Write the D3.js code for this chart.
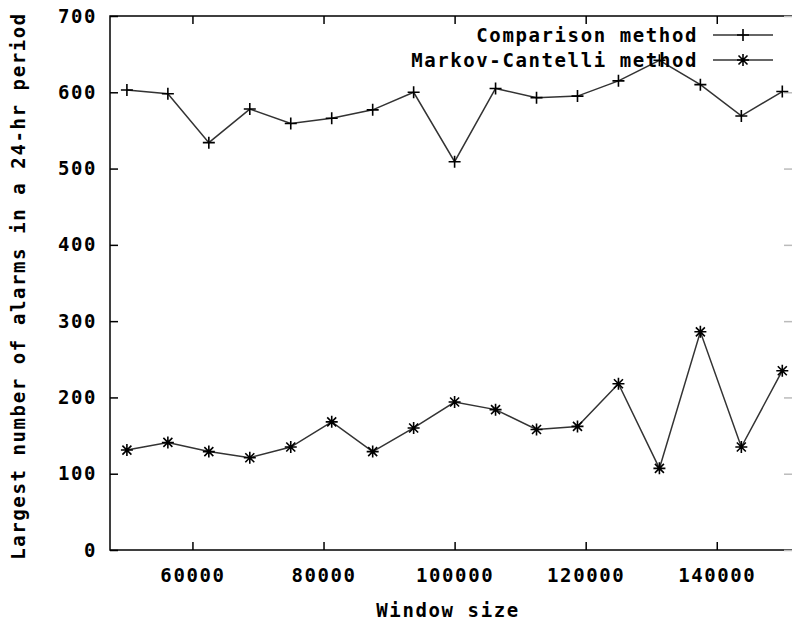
<!DOCTYPE html>
<html>
<head>
<meta charset="utf-8">
<script src="https://cdn.jsdelivr.net/npm/d3@7"></script>
<style>
  body { margin: 0; background: #fff; }
  svg text { font-family: "DejaVu Sans Mono", monospace; font-weight: bold; font-size: 19px; letter-spacing: 1.6px; fill: #000; }
</style>
</head>
<body>
<div id="chart"></div>
<script>
// window sizes (x)
let windowSizes = [50000, 56250, 62500, 68750, 75000, 81250, 87500, 93750, 100000,
                   106250, 112500, 118750, 125000, 131250, 137500, 143750, 150000];
let comparison = [603, 598, 534, 578, 559, 566, 577, 600, 509, 605, 593, 595, 615, 642, 610, 569, 601];
let markov = [131, 141, 129, 121, 135, 168, 129, 160, 194, 184, 158, 162, 218, 107, 286, 135, 235];
let xTicks = [60000, 80000, 100000, 120000, 140000];
let yTicks = [0, 100, 200, 300, 400, 500, 600, 700];
let seriesNames = ["Comparison method", "Markov-Cantelli method"];

let W = 792, H = 622;
let margin = {top: 16, right: 0, bottom: 72, left: 110},
    width = W - margin.left - margin.right,
    height = H - margin.top - margin.bottom;

let x = d3.scaleLinear().domain([47420, 151480]).range([0, width]);
let y = d3.scaleLinear().domain([0, 700]).range([height, 0]);

let svg = d3.select("#chart").append("svg")
    .attr("width", W).attr("height", H);
let g = svg.append("g")
    .attr("transform", "translate(" + margin.left + "," + margin.top + ")");

// frame (right edge falls just outside the picture)
g.append("rect")
  .attr("x", 0).attr("y", 0).attr("width", width + 6).attr("height", height)
  .attr("fill", "none").attr("stroke", "#000").attr("stroke-width", 1.5);

// axes, ticks pointing inward like gnuplot
let axLeft = g.append("g")
  .call(d3.axisLeft(y).tickValues(yTicks).tickSizeInner(-8).tickSizeOuter(0).tickPadding(13));
let axBottom = g.append("g")
  .attr("transform", "translate(0," + height + ")")
  .call(d3.axisBottom(x).tickValues(xTicks).tickSizeInner(-8).tickSizeOuter(0).tickPadding(19).tickFormat(d3.format("d")));
let axTop = g.append("g")
  .call(d3.axisTop(x).tickValues(xTicks).tickSizeInner(-8).tickSizeOuter(0).tickFormat(""));
let axRight = g.append("g")
  .attr("transform", "translate(" + width + ",0)")
  .call(d3.axisRight(y).tickValues(yTicks).tickSizeInner(-8).tickSizeOuter(0).tickFormat(""));

[axLeft, axBottom, axTop, axRight].forEach(function(a) {
  a.select(".domain").remove();
  a.selectAll(".tick line").attr("stroke", "#000").attr("stroke-width", 1.5);
  a.selectAll(".tick text").attr("font-family", null).attr("font-size", null);
});
axRight.selectAll(".tick line").attr("stroke", "#bbb");

// axis titles
g.append("text")
  .attr("text-anchor", "middle")
  .attr("x", x(99000))
  .attr("y", height + 67)
  .text("Window size");

svg.append("text")
  .attr("text-anchor", "middle")
  .attr("transform", "translate(25,286) rotate(-90)")
  .text("Largest number of alarms in a 24-hr period");

let line = d3.line()
  .x(function(d) { return x(d[0]); })
  .y(function(d) { return y(d[1]); });

let compData = windowSizes.map(function(w, i) { return [w, comparison[i]]; });
let markData = windowSizes.map(function(w, i) { return [w, markov[i]]; });

function plusPath(s) {
  return "M" + (-s) + ",0H" + s + "M0," + (-s) + "V" + s;
}
function starPath(s) {
  let d = s * 0.75;
  return plusPath(s) + "M" + (-d) + "," + (-d) + "L" + d + "," + d + "M" + (-d) + "," + d + "L" + d + "," + (-d);
}

let series = [
  {name: seriesNames[0], data: compData, marker: plusPath(6)},
  {name: seriesNames[1], data: markData, marker: starPath(6)}
];

series.forEach(function(s) {
  g.append("path")
    .datum(s.data)
    .attr("d", line)
    .attr("fill", "none")
    .attr("stroke", "#333")
    .attr("stroke-width", 1.5);

  g.selectAll(null)
    .data(s.data)
    .enter().append("path")
    .attr("transform", function(d) { return "translate(" + x(d[0]) + "," + y(d[1]) + ")"; })
    .attr("d", s.marker)
    .attr("fill", "none")
    .attr("stroke", "#000")
    .attr("stroke-width", 1.6);
});

// legend (top right, gnuplot style)
let legend = svg.append("g");
series.forEach(function(s, i) {
  let ly = 35 + i * 25;
  legend.append("text")
    .attr("text-anchor", "end")
    .attr("x", 698)
    .attr("y", ly)
    .attr("dy", "0.35em")
    .text(s.name);
  legend.append("line")
    .attr("x1", 713).attr("x2", 773)
    .attr("y1", ly).attr("y2", ly)
    .attr("stroke", "#333").attr("stroke-width", 1.5);
  legend.append("path")
    .attr("transform", "translate(743," + ly + ")")
    .attr("d", s.marker)
    .attr("fill", "none").attr("stroke", "#000").attr("stroke-width", 1.6);
});
</script>
</body>
</html>
